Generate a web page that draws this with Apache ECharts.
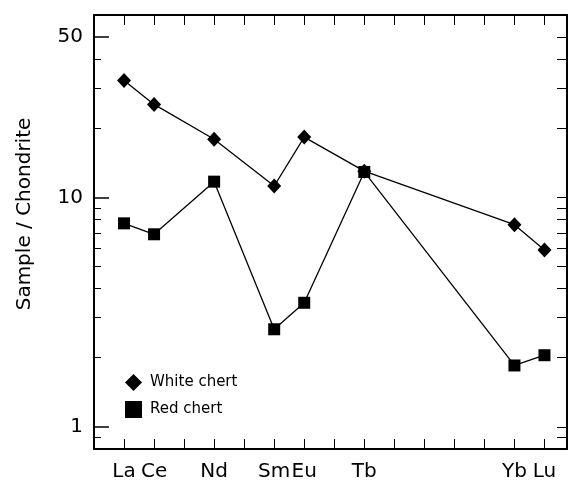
<!DOCTYPE html>
<html>
<head>
<meta charset="utf-8">
<script src="https://cdn.jsdelivr.net/npm/echarts@6/dist/echarts.min.js"></script>
<style>
html, body { margin: 0; padding: 0; background: #fff; }
#chart { width: 570px; height: 482px; }
</style>
</head>
<body>
<div id="chart"></div>
<script>
// REE names and their atomic numbers (x positions)
var elements = ['La', 'Ce', 'Nd', 'Sm', 'Eu', 'Tb', 'Yb', 'Lu'];
var atomicNumbers = [57, 58, 60, 62, 63, 65, 70, 71];
// chondrite normalised values
var whiteChert = [32.3, 25.4, 17.9, 11.2, 18.3, 13.0, 7.6, 5.9];
var redChert = [7.7, 6.9, 11.7, 2.66, 3.47, 12.9, 1.85, 2.05];
// tick positions
var xTicks = [57, 58, 59, 60, 61, 62, 63, 64, 65, 66, 67, 68, 69, 70, 71];
var yMajor = [1, 10, 50];
var yMinor = [0.9, 2, 3, 4, 5, 6, 7, 8, 9, 20, 30, 40];
var yAll = [0.9, 1, 2, 3, 4, 5, 6, 7, 8, 9, 10, 20, 30, 40, 50];

var font = 'DejaVu Sans';
var black = '#000';

function pairs(vals) {
  return atomicNumbers.map(function (n, i) { return [n, vals[i]]; });
}

var frameLine = { show: true, lineStyle: { color: black, width: 2 } };

var option = {
  animation: false,
  backgroundColor: '#fff',
  grid: { left: 94, right: 3, top: 15, bottom: 31, containLabel: false },
  legend: {
    orient: 'vertical',
    left: 125,
    top: 374,
    padding: 0,
    itemWidth: 17,
    itemHeight: 17,
    itemGap: 10,
    textStyle: { color: black, fontFamily: font, fontSize: 15, padding: [0, 0, 0, 3] },
    data: [
      { name: 'White chert', icon: 'diamond' },
      { name: 'Red chert', icon: 'rect' }
    ]
  },
  xAxis: [
    {
      type: 'value',
      min: 56,
      max: 71.75,
      position: 'bottom',
      splitLine: { show: false },
      axisLine: frameLine,
      axisTick: { inside: true, length: 10, lineStyle: { color: black, width: 1 }, customValues: xTicks },
      axisLabel: {
        customValues: atomicNumbers,
        margin: 13,
        color: black,
        fontFamily: font,
        fontSize: 20,
        formatter: function (v) {
          var i = atomicNumbers.indexOf(Math.round(v));
          return i >= 0 ? elements[i] : '';
        }
      }
    },
    {
      type: 'value',
      min: 56,
      max: 71.75,
      position: 'top',
      splitLine: { show: false },
      axisLine: frameLine,
      axisTick: { inside: true, length: 10, lineStyle: { color: black, width: 1 }, customValues: xTicks },
      axisLabel: { show: false }
    }
  ],
  yAxis: [
    {
      type: 'log',
      logBase: 10,
      min: 0.8,
      max: 62.3,
      position: 'left',
      name: 'Sample / Chondrite',
      nameLocation: 'middle',
      nameGap: 59,
      nameRotate: 90,
      nameTextStyle: { color: black, fontFamily: font, fontSize: 20, padding: [0, 0, 0, 36] },
      splitLine: { show: false },
      axisLine: frameLine,
      axisTick: { inside: true, length: 15, lineStyle: { color: black, width: 1.5 }, customValues: yMajor },
      axisLabel: { customValues: yMajor, margin: 11, color: black, fontFamily: font, fontSize: 20 }
    },
    {
      type: 'log',
      logBase: 10,
      min: 0.8,
      max: 62.3,
      position: 'left',
      splitLine: { show: false },
      axisLine: { show: false },
      axisTick: { inside: true, length: 7, lineStyle: { color: black, width: 1 }, customValues: yMinor },
      axisLabel: { show: false }
    },
    {
      type: 'log',
      logBase: 10,
      min: 0.8,
      max: 62.3,
      position: 'right',
      splitLine: { show: false },
      axisLine: frameLine,
      axisTick: { inside: true, length: 10, lineStyle: { color: black, width: 1 }, customValues: yAll },
      axisLabel: { show: false }
    }
  ],
  series: [
    {
      name: 'White chert',
      type: 'line',
      xAxisIndex: 0,
      yAxisIndex: 0,
      symbol: 'diamond',
      symbolSize: [14, 15],
      itemStyle: { color: black },
      lineStyle: { color: black, width: 1.3 },
      data: pairs(whiteChert)
    },
    {
      name: 'Red chert',
      type: 'line',
      xAxisIndex: 0,
      yAxisIndex: 0,
      symbol: 'rect',
      symbolSize: 12,
      itemStyle: { color: black },
      lineStyle: { color: black, width: 1.3 },
      data: pairs(redChert)
    }
  ]
};

var chart = echarts.init(document.getElementById('chart'));
chart.setOption(option);
</script>
</body>
</html>
